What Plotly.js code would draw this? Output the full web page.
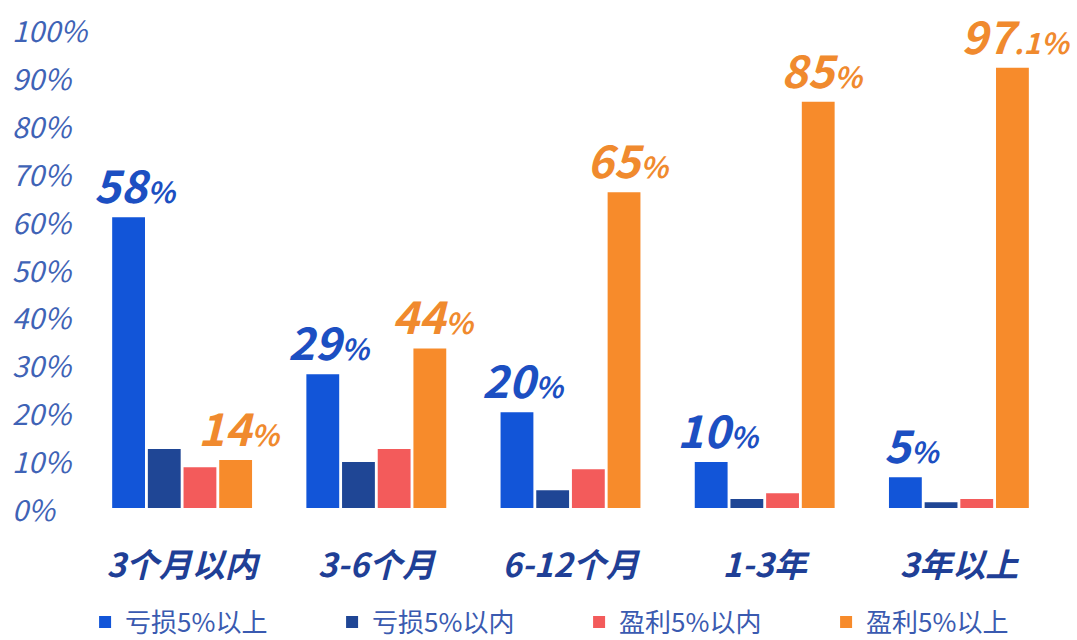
<!DOCTYPE html>
<html>
<head>
<meta charset="utf-8">
<script src="https://cdn.plot.ly/plotly-3.0.1.min.js"></script>
<style>html,body{margin:0;padding:0;background:#fff;}#chart{width:1077px;height:640px;}</style>
</head>
<body>
<div id="chart"></div>
<script>
// ---- data ----
const categories = ['3个月以内', '3-6个月', '6-12个月', '1-3年', '3年以上'];
const seriesNames = ['亏损5%以上', '亏损5%以内', '盈利5%以内', '盈利5%以上'];
const lossOver5 = [60.7, 27.9, 20.0, 9.6, 6.4];
const lossWithin5 = [12.3, 9.6, 3.7, 1.9, 1.2];
const gainWithin5 = [8.5, 12.3, 8.1, 3.1, 1.9];
const gainOver5 = [10.0, 33.3, 65.9, 84.8, 91.9];
const lossLabelMain = ['58', '29', '20', '10', '5'];
const lossLabelTail = ['%', '%', '%', '%', '%'];
const gainLabelMain = ['14', '44', '65', '85', '97'];
const gainLabelTail = ['%', '%', '%', '%', '.1%'];
const yTickVals = [0, 10, 20, 30, 40, 50, 60, 70, 80, 90, 100];
const yTickText = ['0%', '10%', '20%', '30%', '40%', '50%', '60%', '70%', '80%', '90%', '100%'];

// ---- style ----
const colors = ['#1255d8', '#1f4695', '#f35b5b', '#f78b2b'];
const FONT = '"Noto Sans CJK SC", "Noto Sans", sans-serif';
const W = 1077, H = 640;
const margin = {l: 9, r: 21, t: 29, b: 132};
const xDomain = [0.0726, 1];
const bargap = 0.265, bargroupgap = 0.08;

const allSeries = [lossOver5, lossWithin5, gainWithin5, gainOver5];
const traces = allSeries.map((vals, i) => ({
  type: 'bar',
  name: seriesNames[i],
  x: categories,
  y: vals,
  marker: {color: colors[i]},
  hoverinfo: 'skip'
}));

// offset of the outer bars from the category centre, from the axis geometry
const plotW = (W - margin.l - margin.r) * (xDomain[1] - xDomain[0]);
const catW = plotW / categories.length;
const slot = catW * (1 - bargap) / 4;
const outer = 1.5 * slot;

const annotations = [];
categories.forEach((c, i) => {
  annotations.push({
    x: c, y: lossOver5[i], xref: 'x', yref: 'y',
    xanchor: 'center', yanchor: 'bottom', xshift: -outer + 7, yshift: -1,
    showarrow: false,
    text: lossLabelMain[i] + '<span style="font-size:29px">' + lossLabelTail[i] + '</span>',
    font: {family: FONT, size: 45, color: '#1c4fc2', weight: 'bold', style: 'italic'}
  });
  annotations.push({
    x: c, y: gainOver5[i], xref: 'x', yref: 'y',
    xanchor: 'center', yanchor: 'bottom', xshift: outer + 4, yshift: -1,
    showarrow: false,
    text: gainLabelMain[i] + '<span style="font-size:29px">' + gainLabelTail[i] + '</span>',
    font: {family: FONT, size: 45, color: '#f08a2e', weight: 'bold', style: 'italic'}
  });
});
// left-aligned y tick labels placed through the y scale
yTickVals.forEach((v, i) => {
  annotations.push({
    x: 0, y: v, xref: 'paper', yref: 'y',
    xanchor: 'left', yanchor: 'middle', xshift: 1,
    showarrow: false, text: yTickText[i],
    font: {family: FONT, size: 29, color: '#3f63b6', style: 'italic'}
  });
});

const layout = {
  width: W, height: H,
  margin: margin,
  paper_bgcolor: '#ffffff', plot_bgcolor: '#ffffff',
  bargap: bargap, bargroupgap: bargroupgap, barmode: 'group',
  showlegend: true,
  legend: {
    orientation: 'h', xref: 'container', x: 0.079, xanchor: 'left',
    yref: 'container', y: 0.028, yanchor: 'middle',
    font: {family: FONT, size: 26, color: '#3a5ab0'},
    entrywidth: 202, entrywidthmode: 'pixels', traceorder: 'normal'
  },
  xaxis: {
    domain: xDomain, range: [-0.5, categories.length - 0.5],
    type: 'category', automargin: false,
    showline: false, showgrid: false, zeroline: false,
    ticks: 'outside', ticklen: 28, tickcolor: 'rgba(0,0,0,0)',
    tickfont: {family: FONT, size: 33, color: '#1f3f96', weight: 'bold', style: 'italic'}
  },
  yaxis: {
    range: [0, 100], automargin: false,
    showticklabels: false,
    showline: false, showgrid: false, zeroline: false, ticks: ''
  },
  annotations: annotations
};

Plotly.newPlot('chart', traces, layout, {displayModeBar: false, staticPlot: true});
</script>
</body>
</html>
